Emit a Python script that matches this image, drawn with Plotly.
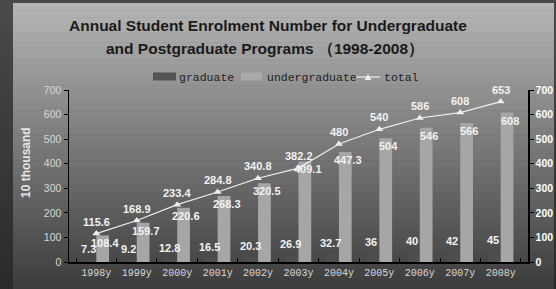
import plotly.graph_objects as go

years = ["1998y", "1999y", "2000y", "2001y", "2002y", "2003y", "2004y", "2005y", "2006y", "2007y", "2008y"]
graduate = [7.3, 9.2, 12.8, 16.5, 20.3, 26.9, 32.7, 36, 40, 42, 45]
undergraduate = [108.4, 159.7, 220.6, 268.3, 320.5, 409.1, 447.3, 504, 546, 566, 608]
total = [115.6, 168.9, 233.4, 284.8, 340.8, 382.2, 480, 540, 586, 608, 653]
y_ticks = [0, 100, 200, 300, 400, 500, 600, 700]
series_names = ["graduate", "undergraduate", "total"]

GRAD_C, UNDER_C, LINE_C = "#4e4e4e", "#a6a6a6", "#eeeeee"

W, H = 556, 289
L, R, T, B = 69, 28, 90, 27
pw, ph = W - L - R, H - T - B
def px(xp):
    return (xp - L) / pw
def py(yp):
    return (H - B - yp) / ph

fig = go.Figure()
fig.add_trace(go.Bar(x=years, y=graduate, name=series_names[0], marker=dict(color=GRAD_C, line=dict(width=0))))
fig.add_trace(go.Bar(x=years, y=undergraduate, name=series_names[1], marker=dict(color=UNDER_C, line=dict(width=0))))
fig.add_trace(go.Scatter(x=years, y=total, name=series_names[2], mode="lines+markers",
                         line=dict(color=LINE_C, width=1.2),
                         marker=dict(symbol="triangle-up", size=7, color=LINE_C)))
fig.add_trace(go.Scatter(x=years, y=total, yaxis="y2", mode="markers", marker=dict(opacity=0),
                         showlegend=False, hoverinfo="skip"))

# backgrounds: outer dark frame and light-to-dark gradient panel
shapes = []
N = 80
for i in range(N):
    ya = H * i / N
    yb = H * (i + 1) / N + 0.5
    f = (i + 0.5) / N
    oc = round(74 + (42 - 74) * f)
    shapes.append(dict(type="rect", xref="paper", yref="paper", x0=px(0), x1=px(W + 2),
                       y0=py(yb), y1=py(ya), layer="below",
                       fillcolor=f"rgb({oc},{oc},{oc})", line=dict(width=0)))
top_px = 3
for i in range(N):
    ya = top_px + (H - top_px) * i / N
    yb = top_px + (H - top_px) * (i + 1) / N + 0.5
    c = round(182 + (60 - 182) * (i + 0.5) / N)
    shapes.append(dict(type="rect", xref="paper", yref="paper",
                       x0=px(13), x1=px(W - 2), y0=py(yb), y1=py(ya), layer="below",
                       fillcolor=f"rgb({c},{c},{c})", line=dict(width=0)))

# legend (drawn manually to match the reference layout)
leg_font = dict(family="Liberation Mono, monospace", size=11.5, color="#1e1e1e")
shapes.append(dict(type="rect", xref="paper", yref="paper", x0=px(153), x1=px(176), y0=py(80.5), y1=py(72.5),
                   fillcolor="#545454", line=dict(width=0)))
shapes.append(dict(type="rect", xref="paper", yref="paper", x0=px(241), x1=px(262), y0=py(80.5), y1=py(72.5),
                   fillcolor="#aaaaaa", line=dict(width=0)))
shapes.append(dict(type="line", xref="paper", yref="paper", x0=px(356), x1=px(380), y0=py(77), y1=py(77),
                   line=dict(color=LINE_C, width=1.2)))
shapes.append(dict(type="path", xref="paper", yref="paper",
                   path=f"M {px(364.5)} {py(80)} L {px(371.5)} {py(80)} L {px(368)} {py(74)} Z",
                   fillcolor=LINE_C, line=dict(width=0)))

annotations = []
for name, xpos in zip(series_names, [177, 265, 382]):
    annotations.append(dict(xref="paper", yref="paper", x=px(xpos), y=py(77), text=name,
                            showarrow=False, xanchor="left", yanchor="middle", font=leg_font))

lab_font = dict(family="Liberation Sans, Arial", size=11, color="#f2f2f2", weight="bold")
for yr, v in zip(years, total):
    annotations.append(dict(x=yr, y=v, text=f"{v:g}", showarrow=False, yshift=12, font=lab_font))
for yr, v in zip(years, undergraduate):
    annotations.append(dict(x=yr, y=v, text=f"{v:g}", showarrow=False, xshift=9, yshift=-8, font=lab_font))
for yr, v in zip(years, graduate):
    annotations.append(dict(x=yr, y=v, text=f"{v:g}", showarrow=False, xshift=-8, yshift=11, font=lab_font))

title_font = dict(family="Liberation Sans, Arial", size=15.5, color="#1a1a1a")
annotations.append(dict(xref="paper", yref="paper", x=px(268), y=py(25),
                        text="<b>Annual Student Enrolment Number for Undergraduate</b>",
                        showarrow=False, font=title_font, xanchor="center", yanchor="middle"))
annotations.append(dict(xref="paper", yref="paper", x=px(265), y=py(49),
                        text="<b>and Postgraduate Programs （1998-2008）</b>",
                        showarrow=False, font=title_font, xanchor="center", yanchor="middle"))
annotations.append(dict(xref="paper", yref="paper", x=px(26), y=py(163),
                        text="<b>10 thousand</b>", textangle=-90, showarrow=False,
                        font=dict(family="Liberation Sans, Arial", size=12, color="#e6e6e6"),
                        xanchor="center", yanchor="middle"))

fig.update_layout(
    width=W, height=H,
    margin=dict(l=L, r=R, t=T, b=B, autoexpand=False),
    paper_bgcolor="#444444",
    plot_bgcolor="rgba(0,0,0,0)",
    barmode="group", bargap=0.37, bargroupgap=0,
    shapes=shapes,
    annotations=annotations,
    showlegend=False,
    xaxis=dict(type="category", showline=True, linecolor="#000000", linewidth=2,
               ticks="inside", ticklen=4, tickcolor="#000000", tickson="boundaries",
               tickangle=0, automargin=False,
               tickfont=dict(family="Liberation Mono, monospace", size=10, color="#d8d8d8"),
               showgrid=False, zeroline=False),
    yaxis=dict(range=[0, 700], tickvals=y_ticks, showline=True, linecolor="#000000", linewidth=1.5,
               ticks="outside", ticklen=4, tickcolor="#000000", showgrid=False, zeroline=False,
               automargin=False,
               tickfont=dict(family="Liberation Sans, Arial", size=10.5, color="#d8d8d8")),
    yaxis2=dict(range=[0, 700], tickvals=y_ticks, overlaying="y", side="right",
                showline=True, linecolor="#000000", linewidth=1.5, automargin=False,
                ticks="outside", ticklen=4, tickcolor="#000000", showgrid=False, zeroline=False,
                tickfont=dict(family="Liberation Sans, Arial", size=10.5, color="#ffffff", weight="bold")),
    hovermode=False,
)

fig.write_html(
    "out.html",
    config={"displayModeBar": False, "staticPlot": True},
    post_script=("document.documentElement.style.overflow='hidden';"
                 "document.body.style.margin='0';document.body.style.padding='0';"
                 "document.body.style.overflow='hidden';"),
)
